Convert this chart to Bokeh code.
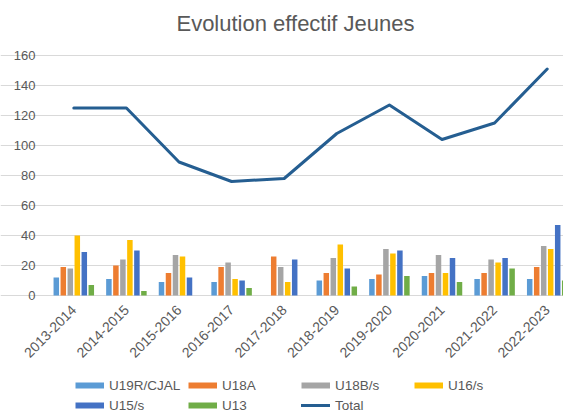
import math
from bokeh.plotting import figure
from bokeh.models import (Range1d, FixedTicker, Legend, LegendItem,
                          ColumnDataSource, Label)
from bokeh.embed import file_html
from bokeh.resources import INLINE

seasons = ["2013-2014", "2014-2015", "2015-2016", "2016-2017", "2017-2018",
           "2018-2019", "2019-2020", "2020-2021", "2021-2022", "2022-2023"]
u19r = [12, 11, 9, 9, 0, 10, 11, 13, 11, 11]
u18a = [19, 20, 15, 19, 26, 15, 14, 15, 15, 19]
u18b = [18, 24, 27, 22, 19, 25, 31, 27, 24, 33]
u16 = [40, 37, 26, 11, 9, 34, 28, 15, 22, 31]
u15 = [29, 30, 12, 10, 24, 18, 30, 25, 25, 47]
u13 = [7, 3, 0, 5, 0, 6, 13, 9, 18, 10]
total = [125, 125, 89, 76, 78, 108, 127, 104, 115, 151]
y_ticks = [0, 20, 40, 60, 80, 100, 120, 140, 160]
title_text = "Evolution effectif Jeunes"

series = [("U19R/CJAL", u19r, "#5B9BD5"), ("U18A", u18a, "#ED7D31"),
          ("U18B/s", u18b, "#A5A5A5"), ("U16/s", u16, "#FFC000"),
          ("U15/s", u15, "#4472C4"), ("U13", u13, "#70AD47")]

FONT = "Liberation Sans"
GREY = "#595959"

# layout (pixels) -> the whole canvas is the plotting frame
W, H = 563, 414
plot_left, plot_top, zero_y = 47, 55, 295
px_per_cat = 52.6
px_per_unit = (zero_y - plot_top) / 160.0

x_start = -plot_left / px_per_cat
x_end = (W - plot_left) / px_per_cat
y_start = -(H - zero_y) / px_per_unit
y_end = 160 + plot_top / px_per_unit

centers = [i + 0.5 for i in range(len(seasons))]

p = figure(width=W, height=H, output_backend="svg", toolbar_location=None,
           title=None,
           x_range=Range1d(x_start, x_end), y_range=Range1d(y_start, y_end),
           min_border_left=0, min_border_right=0,
           min_border_top=0, min_border_bottom=0)
p.outline_line_color = None
p.background_fill_color = "white"
p.border_fill_color = "white"

# title
p.add_layout(Label(x=(295 - plot_left) / px_per_cat,
                   y=160 + (plot_top - 23) / px_per_unit,
                   text=title_text, text_align="center",
                   text_baseline="middle", text_font=FONT,
                   text_font_size="22px", text_color=GREY))

bar_step = 7.0 / px_per_cat
bar_w = 5.5 / px_per_cat
legend_items = []
for k, (name, vals, col) in enumerate(series):
    off = (k - 2.5) * bar_step
    src = ColumnDataSource(dict(x=[c + off for c in centers], top=vals))
    p.vbar(x="x", top="top", width=bar_w, bottom=0, source=src,
           fill_color=col, line_color=None)
    proxy = p.line(x=[float("nan")], y=[float("nan")], line_color=col,
                   line_width=6, line_cap="butt")
    legend_items.append(LegendItem(label=name, renderers=[proxy]))

tsrc = ColumnDataSource(dict(x=centers, y=total))
tl = p.line(x="x", y="y", source=tsrc, line_color="#255E91", line_width=3,
            line_cap="round", line_join="round")
legend_items.append(LegendItem(label="Total", renderers=[tl]))

# x axis drawn at y = 0
p.xaxis.fixed_location = 0
p.xaxis.ticker = FixedTicker(ticks=centers)
p.xaxis.major_label_overrides = {c: s for c, s in zip(centers, seasons)}
p.xaxis.major_label_orientation = math.pi / 4
p.xaxis.axis_line_color = None
p.xaxis.major_tick_line_color = None
p.xaxis.minor_tick_line_color = None
p.xaxis.major_tick_out = 0
p.xaxis.major_label_text_font = FONT
p.xaxis.major_label_text_font_size = "14px"
p.xaxis.major_label_text_color = GREY
p.xaxis.major_label_standoff = 12
p.xgrid.grid_line_color = None

# y axis drawn at x = 0
p.yaxis.fixed_location = 0
p.yaxis.ticker = FixedTicker(ticks=y_ticks)
p.yaxis.axis_line_color = None
p.yaxis.major_tick_line_color = None
p.yaxis.minor_tick_line_color = None
p.yaxis.major_tick_out = 0
p.yaxis.major_label_text_font = FONT
p.yaxis.major_label_text_font_size = "13px"
p.yaxis.major_label_text_color = GREY
p.yaxis.major_label_standoff = 12
p.ygrid.grid_line_color = "#D9D9D9"
p.ygrid.grid_line_width = 1
p.ygrid.bounds = (0, x_end)

legend = Legend(items=legend_items, ncols=4, orientation="horizontal",
                location=(75, 0), glyph_width=29, glyph_height=18,
                label_height=18, label_width=77, label_standoff=5, spacing=2,
                padding=0, margin=0, border_line_color=None,
                background_fill_alpha=0,
                label_text_font=FONT, label_text_font_size="13.5px",
                label_text_color=GREY)
p.add_layout(legend, "center")

open("out.html", "w").write(file_html(p, INLINE))
